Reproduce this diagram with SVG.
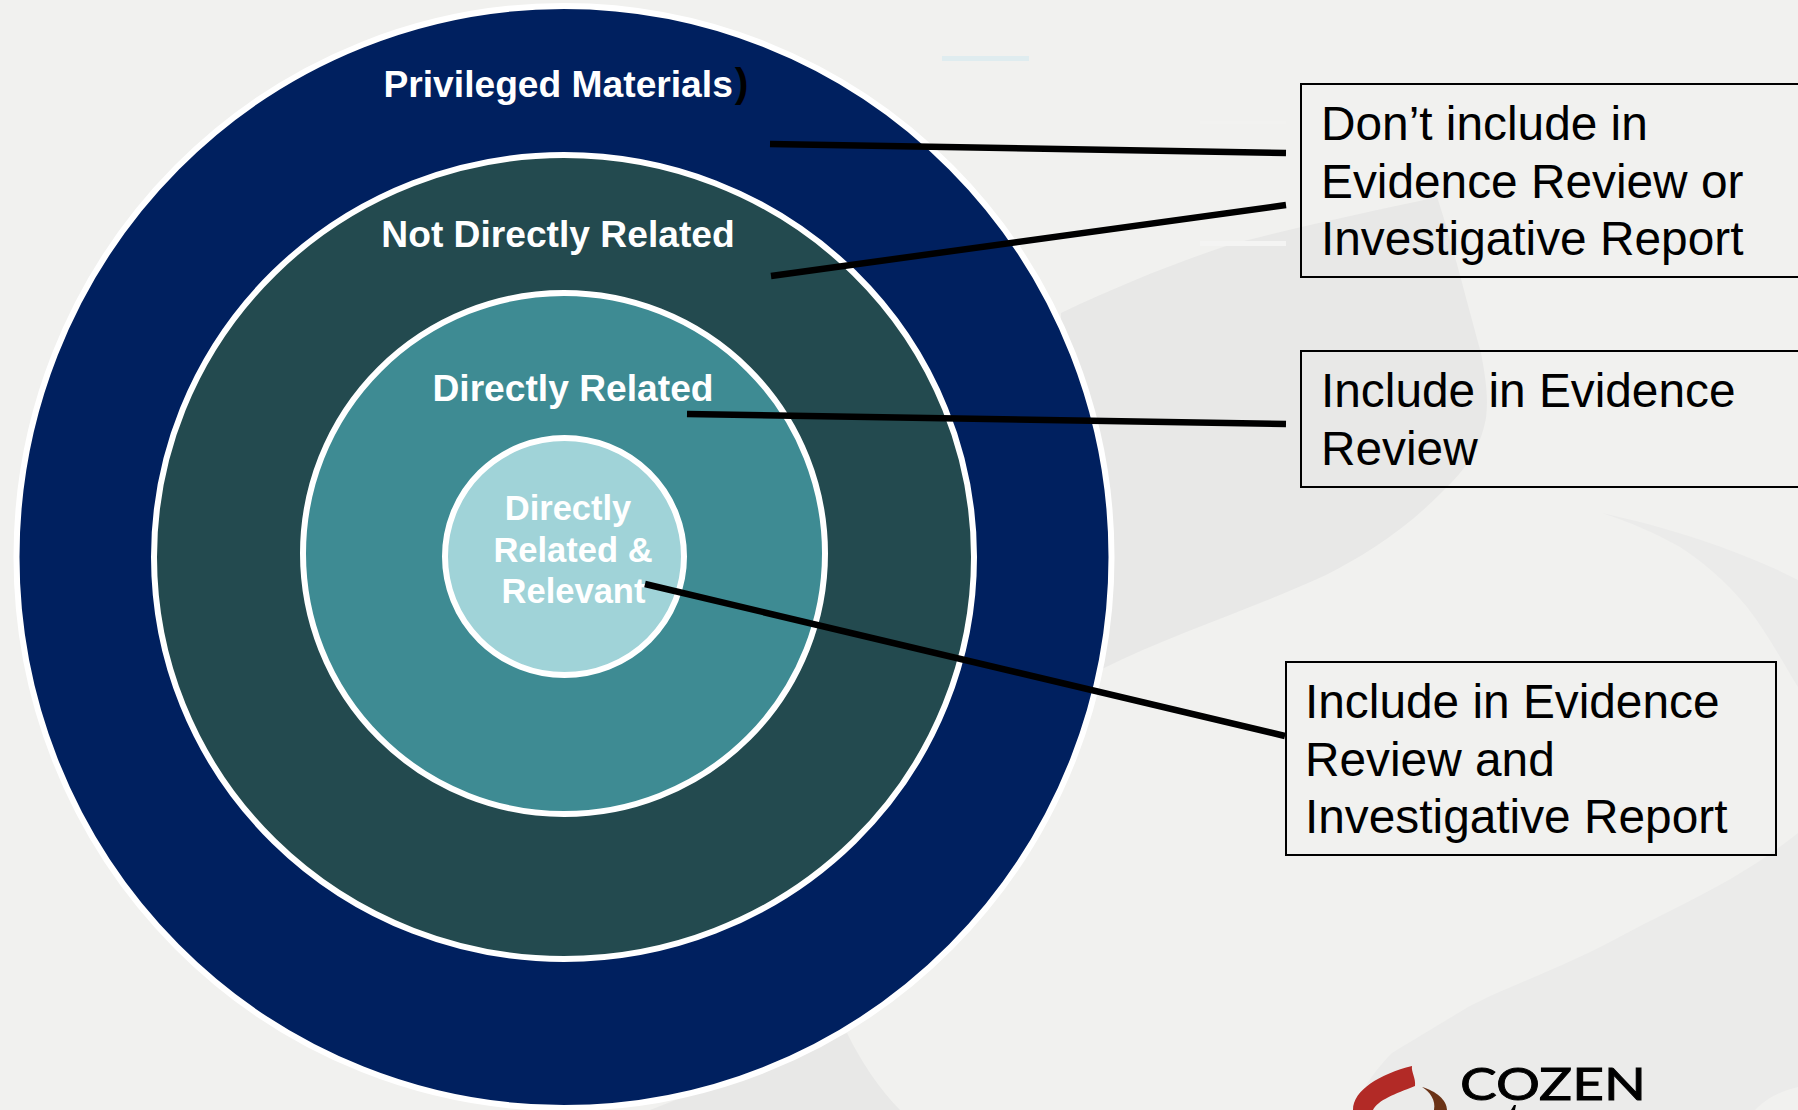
<svg xmlns="http://www.w3.org/2000/svg" width="1798" height="1110" viewBox="0 0 1798 1110">
<style>
.ring{stroke:#fff;stroke-width:6}
.lbl{font-family:"Liberation Sans",Arial,sans-serif;font-weight:bold;font-size:37.2px;fill:#fff;text-anchor:middle}
.lbs{font-size:34.5px}
.box{fill:none;stroke:#000;stroke-width:2}
.tx{font-family:"Liberation Sans",Arial,sans-serif;font-size:47.8px;fill:#000}
.wm{fill:#e8e8e7}
.wl{fill:#ebebea}
.conn{stroke:#000;stroke-width:6.5;fill:none}
</style>
<rect width="1798" height="1110" fill="#f1f1ef"/>
<g id="background">
<path class="wm" d="M1061 313C1120 285 1170 265 1223 247C1290 228 1370 212 1437 197C1450 235 1465 295 1481 353C1487 385 1488 400 1486 418C1480 450 1465 470 1443 491C1405 530 1365 555 1326 575C1250 610 1170 635 1102 669L1040 705L1060 560Z"/>
<path class="wl" d="M1602 513C1680 530 1750 555 1798 580V687C1780 657 1765 630 1747 607C1725 580 1700 560 1680 547C1655 533 1630 522 1602 513Z"/>
<path class="wl" d="M1798 833C1740 880 1680 905 1627 933C1570 965 1510 985 1468 1007C1430 1030 1405 1045 1392 1053C1370 1075 1360 1095 1354 1110H1755C1770 1095 1785 1090 1798 1087Z"/>
<path class="wm" d="M847 1033C860 1060 880 1090 900 1110H650Z"/>
<rect x="942" y="56" width="87" height="5" fill="#dfecef"/>
<rect x="1200" y="121" width="86" height="3" fill="#f2f2f0"/>
<rect x="1200" y="241" width="86" height="5" fill="#f4f4f3"/>
</g>
<g id="node-privileged">
<ellipse class="ring" cx="564" cy="557" rx="547.5" ry="551" fill="#00205f"/>
<text class="lbl" x="566" y="97">Privileged Materials<tspan fill="#000" font-size="41" dx="2">)</tspan></text>
</g>
<g id="node-not-directly-related">
<ellipse class="ring" cx="564" cy="557" rx="410" ry="402" fill="#234a4f"/>
<text class="lbl" x="558" y="247">Not Directly Related</text>
</g>
<g id="node-directly-related">
<ellipse class="ring" cx="564" cy="553.5" rx="261" ry="260.5" fill="#3e8b93"/>
<text class="lbl" x="573" y="401">Directly Related</text>
</g>
<g id="node-relevant">
<ellipse class="ring" cx="564.5" cy="556.5" rx="119.5" ry="118.5" fill="#a0d3d8"/>
<text class="lbl lbs" x="568" y="520">Directly</text>
<text class="lbl lbs" x="573" y="562">Related &amp;</text>
<text class="lbl lbs" x="573.5" y="603">Relevant</text>
</g>
<g id="connectors">
<path class="conn" d="M770 144L1286 153"/>
<path class="conn" d="M771 276L1286 205"/>
<path class="conn" d="M687 414L1286 424"/>
<path class="conn" d="M645 584L1285 736"/>
</g>
<g id="node-box-1">
<rect class="box" x="1301" y="84" width="520" height="193"/>
<text class="tx" x="1321" y="140">Don’t include in</text>
<text class="tx" x="1321" y="198">Evidence Review or</text>
<text class="tx" x="1321" y="255">Investigative Report</text>
</g>
<g id="node-box-2">
<rect class="box" x="1301" y="351" width="520" height="136"/>
<text class="tx" x="1321" y="407">Include in Evidence</text>
<text class="tx" x="1321" y="465">Review</text>
</g>
<g id="node-box-3">
<rect class="box" x="1286" y="662" width="490" height="193"/>
<text class="tx" x="1305" y="718">Include in Evidence</text>
<text class="tx" x="1305" y="776">Review and</text>
<text class="tx" x="1305" y="833">Investigative Report</text>
</g>
<g id="logo">
<path fill="#b22a26" d="M1353 1110C1353 1090 1380 1074 1412 1066C1411 1072 1416 1078 1415 1086C1395 1094 1378 1100 1373 1110Z"/>
<path fill="#6b3317" d="M1422 1087C1436 1091 1447 1100 1447 1110H1434C1436 1100 1430 1092 1422 1087Z"/>
<path fill="#000" d="M1511 1110L1514 1105L1516 1105L1515 1110Z"/>
<text transform="translate(1460 1100) scale(1.25 1)" x="0" y="0" font-family="Lato,'Liberation Sans',sans-serif" font-size="44" stroke="#000" stroke-width="0.9" fill="#000">COZEN</text>
</g>
</svg>
